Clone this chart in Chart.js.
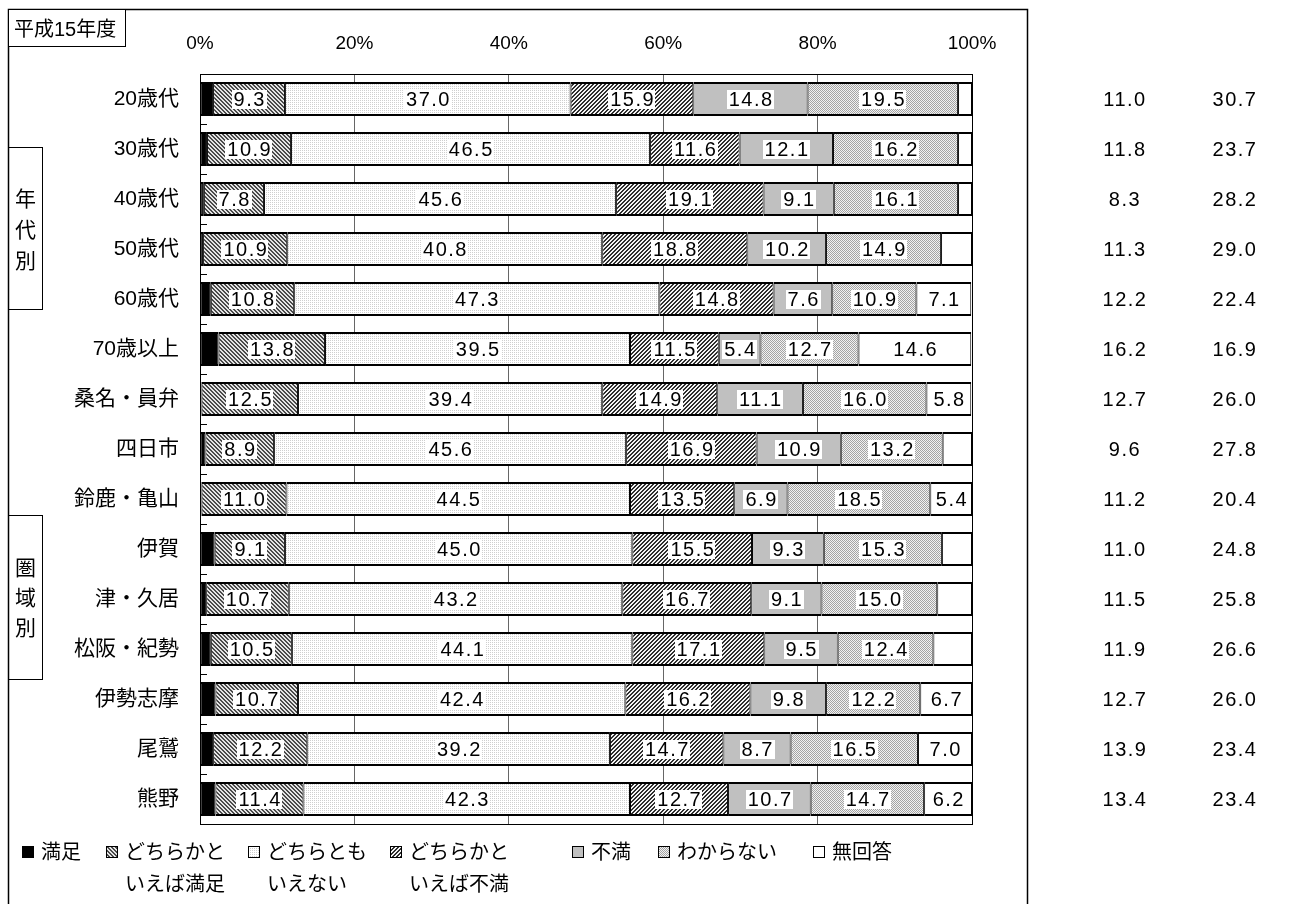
<!DOCTYPE html>
<html lang="ja">
<head>
<meta charset="utf-8">
<title>満足度 平成15年度</title>
<script src="https://cdn.jsdelivr.net/npm/chart.js@4.4.1/dist/chart.umd.min.js"></script>
<style>
  html, body { margin: 0; padding: 0; background: #fff; }
  #wrap { width: 1289px; height: 904px; }
</style>
</head>
<body>
<div id="wrap"><canvas id="myChart" width="1289" height="904"></canvas></div>
<script>
// categories (rows, top to bottom)
const categories = ['20歳代', '30歳代', '40歳代', '50歳代', '60歳代', '70歳以上',
    '桑名・員弁', '四日市', '鈴鹿・亀山', '伊賀', '津・久居', '松阪・紀勢', '伊勢志摩', '尾鷲', '熊野'];

const seriesNames = ['満足', 'どちらかと\nいえば満足', 'どちらとも\nいえない', 'どちらかと\nいえば不満', '不満', 'わからない', '無回答'];

// series values (%)
const satisfied          = [1.7, 0.9, 0.5, 0.4, 1.4, 2.4, 0.2, 0.7, 0.2, 1.9, 0.8, 1.4, 2.0, 1.7, 2.0];
const ratherSatisfied    = [9.3, 10.9, 7.8, 10.9, 10.8, 13.8, 12.5, 8.9, 11.0, 9.1, 10.7, 10.5, 10.7, 12.2, 11.4];
const neutral            = [37.0, 46.5, 45.6, 40.8, 47.3, 39.5, 39.4, 45.6, 44.5, 45.0, 43.2, 44.1, 42.4, 39.2, 42.3];
const ratherDissatisfied = [15.9, 11.6, 19.1, 18.8, 14.8, 11.5, 14.9, 16.9, 13.5, 15.5, 16.7, 17.1, 16.2, 14.7, 12.7];
const dissatisfied       = [14.8, 12.1, 9.1, 10.2, 7.6, 5.4, 11.1, 10.9, 6.9, 9.3, 9.1, 9.5, 9.8, 8.7, 10.7];
const unknown            = [19.5, 16.2, 16.1, 14.9, 10.9, 12.7, 16.0, 13.2, 18.5, 15.3, 15.0, 12.4, 12.2, 16.5, 14.7];
const noAnswer           = [1.8, 1.8, 1.8, 4.0, 7.1, 14.6, 5.8, 3.8, 5.4, 3.9, 4.5, 5.0, 6.7, 7.0, 6.2];

// right-hand columns: 満足計 / 不満計
const satisfiedTotal    = [11.0, 11.8, 8.3, 11.3, 12.2, 16.2, 12.7, 9.6, 11.2, 11.0, 11.5, 11.9, 12.7, 13.9, 13.4];
const dissatisfiedTotal = [30.7, 23.7, 28.2, 29.0, 22.4, 16.9, 26.0, 27.8, 20.4, 24.8, 25.8, 26.6, 26.0, 23.4, 23.4];

const xTicks = [0, 20, 40, 60, 80, 100];

// smallest value that still gets a number printed, per series
const labelMin = [Infinity, 0, 0, 0, 0, 0, 5.1];

const JP_FONT = "'Liberation Sans', 'Noto Sans CJK JP', sans-serif";
const NUM_FONT = "20px 'Liberation Sans', sans-serif";
const NUM_SPACING = 1.5;

function makePattern(size, pick) {
    const c = document.createElement('canvas');
    c.width = size; c.height = size;
    const g = c.getContext('2d');
    for (let y = 0; y < size; y++) {
        for (let x = 0; x < size; x++) {
            g.fillStyle = pick(x, y);
            g.fillRect(x, y, 1, 1);
        }
    }
    return g.createPattern(c, 'repeat');
}

window.onload = function () {
    const fills = [
        '#000000',
        makePattern(4, (x, y) => ((x - y + 8) % 4 < 2) ? '#4a4a4a' : '#e4e4e4'),
        makePattern(2, (x, y) => (x === 0 && y === 0) ? '#cfcfcf' : '#ffffff'),
        makePattern(4, (x, y) => ((x + y) % 4 < 2) ? '#2e2e2e' : '#f4f4f4'),
        '#c0c0c0',
        makePattern(2, (x, y) => ((x + y) % 2 === 0) ? '#a4a4a4' : '#f2f2f2'),
        '#ffffff'
    ];
    const values = [satisfied, ratherSatisfied, neutral, ratherDissatisfied, dissatisfied, unknown, noAnswer];

    const datasets = values.map((data, i) => ({
        label: seriesNames[i],
        data: data,
        backgroundColor: fills[i],
        borderColor: '#000',
        borderWidth: { top: 2, bottom: 2, left: 1, right: 1 },
        borderSkipped: false,
        barPercentage: 0.68,
        categoryPercentage: 1.0
    }));

    const valueLabels = {
        id: 'valueLabels',
        afterDatasetsDraw(chart) {
            const ctx = chart.ctx;
            ctx.save();
            ctx.font = NUM_FONT;
            ctx.letterSpacing = NUM_SPACING + 'px';
            ctx.textAlign = 'center';
            ctx.textBaseline = 'middle';
            chart.data.datasets.forEach((ds, di) => {
                chart.getDatasetMeta(di).data.forEach((bar, i) => {
                    const v = ds.data[i];
                    if (v < labelMin[di]) return;
                    const txt = v.toFixed(1);
                    const p = bar.getCenterPoint();
                    const w = ctx.measureText(txt).width - NUM_SPACING;
                    ctx.fillStyle = '#fff';
                    ctx.fillRect(Math.round(p.x - w / 2 - 2), Math.round(p.y - 9), Math.round(w + 4), 19);
                    ctx.fillStyle = '#000';
                    ctx.fillText(txt, p.x + NUM_SPACING / 2, p.y + 1);
                });
            });
            ctx.restore();
        }
    };

    const decorations = {
        id: 'decorations',
        afterDraw(chart) {
            const ctx = chart.ctx;
            const area = chart.chartArea;
            const yScale = chart.scales.y;
            ctx.save();

            // outer frame
            ctx.strokeStyle = '#000';
            ctx.lineWidth = 1.5;
            ctx.strokeRect(8.5, 9.5, 1019, 1000);

            // plot border
            ctx.lineWidth = 1;
            ctx.strokeRect(area.left + 0.5, area.top + 0.5, area.right - area.left, area.bottom - area.top);

            // small inner ticks between rows
            for (let i = 0; i < categories.length - 1; i++) {
                const y = Math.round((yScale.getPixelForValue(i) + yScale.getPixelForValue(i + 1)) / 2) + 0.5;
                ctx.beginPath();
                ctx.moveTo(area.left, y);
                ctx.lineTo(area.left + 7, y);
                ctx.stroke();
            }

            // year box
            ctx.fillStyle = '#fff';
            ctx.fillRect(8.5, 9.5, 117, 37);
            ctx.strokeRect(8.5, 9.5, 117, 37);
            ctx.fillStyle = '#000';
            ctx.font = '20px ' + JP_FONT;
            ctx.textAlign = 'left';
            ctx.textBaseline = 'middle';
            ctx.fillText('平成15年度', 14, 30);

            // group boxes
            const groups = [
                { text: '年代別', top: 147, bottom: 309, mid: 231, gap: 31 },
                { text: '圏域別', top: 515, bottom: 679, mid: 599, gap: 30 }
            ];
            ctx.textAlign = 'center';
            ctx.font = '21px ' + JP_FONT;
            groups.forEach(g => {
                ctx.strokeRect(8.5, g.top + 0.5, 34, g.bottom - g.top);
                [...g.text].forEach((ch, k) => ctx.fillText(ch, 25.5, g.mid + (k - 1) * g.gap));
            });

            // right-hand totals
            ctx.font = NUM_FONT;
            ctx.letterSpacing = NUM_SPACING + 'px';
            categories.forEach((c, i) => {
                const y = yScale.getPixelForValue(i) + 1;
                ctx.fillText(satisfiedTotal[i].toFixed(1), area.right + 153, y);
                ctx.fillText(dissatisfiedTotal[i].toFixed(1), area.right + 263, y);
            });
            ctx.letterSpacing = '0px';

            // legend
            const legendX = [22, 106, 248, 390, 572, 658, 813];
            ctx.font = '20px ' + JP_FONT;
            ctx.textAlign = 'left';
            chart.data.datasets.forEach((ds, i) => {
                const x = legendX[i];
                ctx.fillStyle = ds.backgroundColor;
                ctx.fillRect(x, 846, 11, 11);
                ctx.strokeRect(x + 0.5, 846.5, 11, 11);
                ctx.fillStyle = '#000';
                ds.label.split('\n').forEach((line, k) => ctx.fillText(line, x + 19, 853 + k * 32));
            });

            ctx.restore();
        }
    };

    Chart.defaults.color = '#000';

    new Chart(document.getElementById('myChart').getContext('2d'), {
        type: 'bar',
        data: { labels: categories, datasets: datasets },
        options: {
            indexAxis: 'y',
            responsive: false,
            animation: false,
            layout: { padding: { left: 0, right: 317, top: 0, bottom: 80 } },
            plugins: {
                legend: { display: false },
                tooltip: { enabled: false }
            },
            scales: {
                x: {
                    position: 'top',
                    stacked: true,
                    min: 0,
                    max: 100,
                    afterBuildTicks: (scale) => { scale.ticks = xTicks.map(v => ({ value: v })); },
                    afterFit: (scale) => { scale.height = 74; },
                    grid: { color: '#666', drawTicks: false },
                    border: { display: false },
                    ticks: {
                        padding: 19,
                        font: { family: "'Liberation Sans Narrow', 'Liberation Sans', sans-serif", size: 19 },
                        callback: (v) => v + '%'
                    }
                },
                y: {
                    stacked: true,
                    afterFit: (scale) => { scale.width = 200; },
                    grid: { display: false, drawTicks: false },
                    border: { display: false },
                    ticks: {
                        padding: 21,
                        font: { family: JP_FONT, size: 21 }
                    }
                }
            }
        },
        plugins: [valueLabels, decorations]
    });
};
</script>
</body>
</html>
